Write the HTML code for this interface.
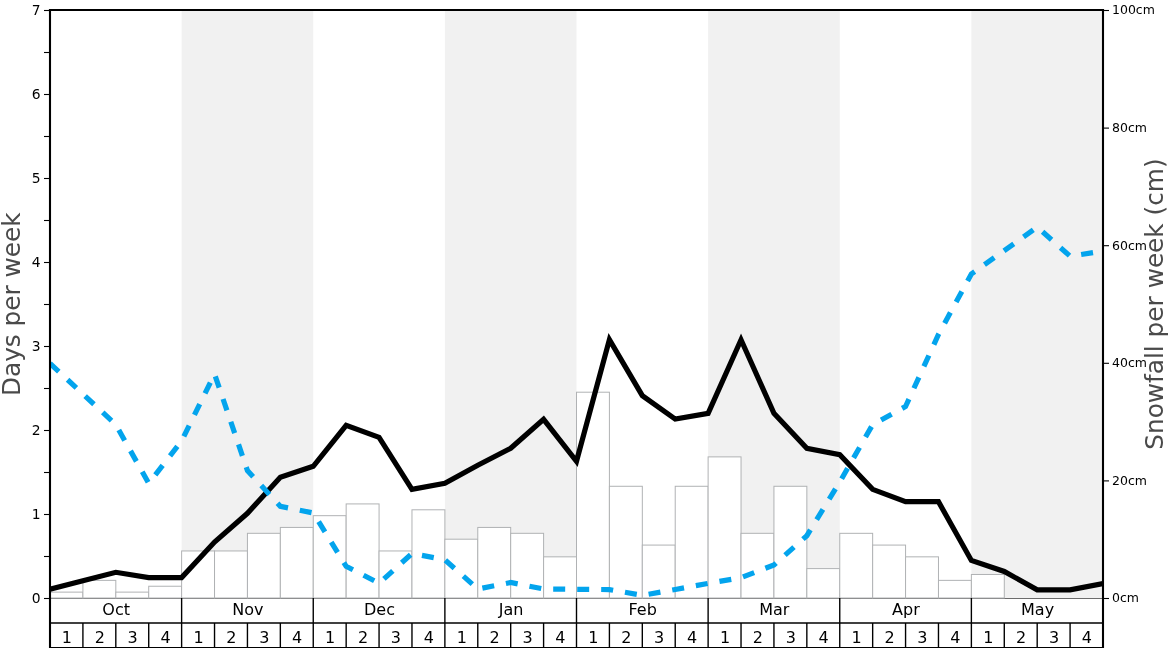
<!DOCTYPE html>
<html lang="en"><head><meta charset="utf-8"><title>Snowfall chart</title>
<style>html,body{margin:0;padding:0;background:#fff;}body{width:1168px;height:648px;overflow:hidden;}svg{display:block;}text{font-family:"DejaVu Sans","Liberation Sans",sans-serif;}</style>
</head><body>
<svg width="1168" height="648" viewBox="0 0 1168 648">
<rect x="0" y="0" width="1168" height="648" fill="#ffffff"/>
<defs><clipPath id="ax"><rect x="50" y="10" width="1053" height="588"/></clipPath></defs>
<rect x="181.62" y="10" width="131.62" height="588" fill="#f1f1f1"/>
<rect x="444.88" y="10" width="131.62" height="588" fill="#f1f1f1"/>
<rect x="708.12" y="10" width="131.62" height="588" fill="#f1f1f1"/>
<rect x="971.38" y="10" width="131.62" height="588" fill="#f1f1f1"/>
<line x1="50" y1="598.5" x2="1103" y2="598.5" stroke="#6c6c6c" stroke-width="1"/>
<g fill="#ffffff" stroke="#b0b2b4" stroke-width="1">
<rect x="50" y="592.12" width="32.91" height="5.88"/>
<rect x="82.91" y="580.36" width="32.91" height="17.64"/>
<rect x="115.81" y="592.12" width="32.91" height="5.88"/>
<rect x="148.72" y="586.24" width="32.91" height="11.76"/>
<rect x="181.62" y="550.96" width="32.91" height="47.04"/>
<rect x="214.53" y="550.96" width="32.91" height="47.04"/>
<rect x="247.44" y="533.32" width="32.91" height="64.68"/>
<rect x="280.34" y="527.44" width="32.91" height="70.56"/>
<rect x="313.25" y="515.68" width="32.91" height="82.32"/>
<rect x="346.16" y="503.92" width="32.91" height="94.08"/>
<rect x="379.06" y="550.96" width="32.91" height="47.04"/>
<rect x="411.97" y="509.8" width="32.91" height="88.2"/>
<rect x="444.88" y="539.2" width="32.91" height="58.8"/>
<rect x="477.78" y="527.44" width="32.91" height="70.56"/>
<rect x="510.69" y="533.32" width="32.91" height="64.68"/>
<rect x="543.59" y="556.84" width="32.91" height="41.16"/>
<rect x="576.5" y="392.2" width="32.91" height="205.8"/>
<rect x="609.41" y="486.28" width="32.91" height="111.72"/>
<rect x="642.31" y="545.08" width="32.91" height="52.92"/>
<rect x="675.22" y="486.28" width="32.91" height="111.72"/>
<rect x="708.12" y="456.88" width="32.91" height="141.12"/>
<rect x="741.03" y="533.32" width="32.91" height="64.68"/>
<rect x="773.94" y="486.28" width="32.91" height="111.72"/>
<rect x="806.84" y="568.6" width="32.91" height="29.4"/>
<rect x="839.75" y="533.32" width="32.91" height="64.68"/>
<rect x="872.66" y="545.08" width="32.91" height="52.92"/>
<rect x="905.56" y="556.84" width="32.91" height="41.16"/>
<rect x="938.47" y="580.36" width="32.91" height="17.64"/>
<rect x="971.38" y="574.48" width="32.91" height="23.52"/>
</g>
<polyline clip-path="url(#ax)" points="50,589.3 82.91,580.8 115.81,572.3 148.72,577.6 181.62,577.6 214.53,542 247.44,513.3 280.34,477.3 313.25,466.3 346.16,425.3 379.06,437.3 411.97,489.3 444.88,483.3 477.78,465.3 510.69,448.3 543.59,419.3 576.5,461.3 609.41,339.6 642.31,395.6 675.22,419 708.12,413.3 741.03,339.8 773.94,413.3 806.84,448.3 839.75,454.6 872.66,489.4 905.56,501.7 938.47,501.7 971.38,560.4 1004.28,571.5 1037.19,589.8 1070.09,589.8 1103,583.5" fill="none" stroke="#000000" stroke-width="5.2" stroke-linejoin="miter" stroke-miterlimit="10"/>
<polyline clip-path="url(#ax)" points="50,363.4 82.91,394 115.81,424.6 148.72,483.4 181.62,441 214.53,374 247.44,470.6 280.34,506.3 313.25,513 346.16,566.3 379.06,583.3 411.97,553.5 444.88,559.8 477.78,589 510.69,582.5 543.59,589 576.5,589.3 609.41,589.6 642.31,595.3 675.22,589.5 708.12,583.4 741.03,577.6 773.94,565 806.84,535.7 839.75,482 872.66,424.6 905.56,406.5 938.47,334.5 971.38,274 1004.28,250.6 1037.19,227 1070.09,256.2 1103,251" fill="none" stroke="#03a4ed" stroke-width="5.2" stroke-linejoin="miter" stroke-dasharray="12 12"/>
<g stroke="#000000" stroke-width="1.39" fill="none">
<line x1="50" y1="623" x2="1103" y2="623"/>
<line x1="50" y1="647.65" x2="1103" y2="647.65"/>
<line x1="82.91" y1="623" x2="82.91" y2="647.65"/>
<line x1="115.81" y1="623" x2="115.81" y2="647.65"/>
<line x1="148.72" y1="623" x2="148.72" y2="647.65"/>
<line x1="181.62" y1="598" x2="181.62" y2="647.65"/>
<line x1="214.53" y1="623" x2="214.53" y2="647.65"/>
<line x1="247.44" y1="623" x2="247.44" y2="647.65"/>
<line x1="280.34" y1="623" x2="280.34" y2="647.65"/>
<line x1="313.25" y1="598" x2="313.25" y2="647.65"/>
<line x1="346.16" y1="623" x2="346.16" y2="647.65"/>
<line x1="379.06" y1="623" x2="379.06" y2="647.65"/>
<line x1="411.97" y1="623" x2="411.97" y2="647.65"/>
<line x1="444.88" y1="598" x2="444.88" y2="647.65"/>
<line x1="477.78" y1="623" x2="477.78" y2="647.65"/>
<line x1="510.69" y1="623" x2="510.69" y2="647.65"/>
<line x1="543.59" y1="623" x2="543.59" y2="647.65"/>
<line x1="576.5" y1="598" x2="576.5" y2="647.65"/>
<line x1="609.41" y1="623" x2="609.41" y2="647.65"/>
<line x1="642.31" y1="623" x2="642.31" y2="647.65"/>
<line x1="675.22" y1="623" x2="675.22" y2="647.65"/>
<line x1="708.12" y1="598" x2="708.12" y2="647.65"/>
<line x1="741.03" y1="623" x2="741.03" y2="647.65"/>
<line x1="773.94" y1="623" x2="773.94" y2="647.65"/>
<line x1="806.84" y1="623" x2="806.84" y2="647.65"/>
<line x1="839.75" y1="598" x2="839.75" y2="647.65"/>
<line x1="872.66" y1="623" x2="872.66" y2="647.65"/>
<line x1="905.56" y1="623" x2="905.56" y2="647.65"/>
<line x1="938.47" y1="623" x2="938.47" y2="647.65"/>
<line x1="971.38" y1="598" x2="971.38" y2="647.65"/>
<line x1="1004.28" y1="623" x2="1004.28" y2="647.65"/>
<line x1="1037.19" y1="623" x2="1037.19" y2="647.65"/>
<line x1="1070.09" y1="623" x2="1070.09" y2="647.65"/>
</g>
<g stroke="#000000" stroke-width="2.1" fill="none" stroke-linecap="square">
<line x1="50" y1="10" x2="50" y2="648"/>
<line x1="1103" y1="10" x2="1103" y2="648"/>
<line x1="50" y1="10" x2="1103" y2="10"/>
</g>
<g stroke="#000000" stroke-width="1.1">
<line x1="44" y1="598.5" x2="49" y2="598.5"/>
<line x1="44" y1="514.5" x2="49" y2="514.5"/>
<line x1="44" y1="430.5" x2="49" y2="430.5"/>
<line x1="44" y1="346.5" x2="49" y2="346.5"/>
<line x1="44" y1="262.5" x2="49" y2="262.5"/>
<line x1="44" y1="178.5" x2="49" y2="178.5"/>
<line x1="44" y1="94.5" x2="49" y2="94.5"/>
<line x1="44" y1="10.5" x2="49" y2="10.5"/>
<line x1="44" y1="556.5" x2="49" y2="556.5"/>
<line x1="44" y1="472.5" x2="49" y2="472.5"/>
<line x1="44" y1="388.5" x2="49" y2="388.5"/>
<line x1="44" y1="304.5" x2="49" y2="304.5"/>
<line x1="44" y1="220.5" x2="49" y2="220.5"/>
<line x1="44" y1="136.5" x2="49" y2="136.5"/>
<line x1="44" y1="52.5" x2="49" y2="52.5"/>
<line x1="1104" y1="598.5" x2="1109" y2="598.5"/>
<line x1="1104" y1="480.9" x2="1109" y2="480.9"/>
<line x1="1104" y1="363.3" x2="1109" y2="363.3"/>
<line x1="1104" y1="245.7" x2="1109" y2="245.7"/>
<line x1="1104" y1="128.1" x2="1109" y2="128.1"/>
<line x1="1104" y1="10.5" x2="1109" y2="10.5"/>
</g>
<g font-size="13.89" fill="#000000" text-anchor="end">
<text x="40.7" y="603.4">0</text>
<text x="40.7" y="519.4">1</text>
<text x="40.7" y="435.4">2</text>
<text x="40.7" y="351.4">3</text>
<text x="40.7" y="267.4">4</text>
<text x="40.7" y="183.4">5</text>
<text x="40.7" y="99.4">6</text>
<text x="40.7" y="15.4">7</text>
</g>
<g font-size="12.5" fill="#000000" text-anchor="start">
<text x="1112" y="601.9">0cm</text>
<text x="1112" y="485.2">20cm</text>
<text x="1112" y="366.7">40cm</text>
<text x="1112" y="250">60cm</text>
<text x="1112" y="132.4">80cm</text>
<text x="1112" y="13.9">100cm</text>
</g>
<g font-size="16" fill="#000000" text-anchor="middle">
<text x="116.21" y="615.2">Oct</text>
<text x="247.84" y="615.2">Nov</text>
<text x="379.46" y="615.2">Dec</text>
<text x="511.09" y="615.2">Jan</text>
<text x="642.71" y="615.2">Feb</text>
<text x="774.34" y="615.2">Mar</text>
<text x="905.96" y="615.2">Apr</text>
<text x="1037.59" y="615.2">May</text>
<text x="66.85" y="642.8">1</text>
<text x="99.76" y="642.8">2</text>
<text x="132.67" y="642.8">3</text>
<text x="165.57" y="642.8">4</text>
<text x="198.48" y="642.8">1</text>
<text x="231.38" y="642.8">2</text>
<text x="264.29" y="642.8">3</text>
<text x="297.2" y="642.8">4</text>
<text x="330.1" y="642.8">1</text>
<text x="363.01" y="642.8">2</text>
<text x="395.92" y="642.8">3</text>
<text x="428.82" y="642.8">4</text>
<text x="461.73" y="642.8">1</text>
<text x="494.63" y="642.8">2</text>
<text x="527.54" y="642.8">3</text>
<text x="560.45" y="642.8">4</text>
<text x="593.35" y="642.8">1</text>
<text x="626.26" y="642.8">2</text>
<text x="659.17" y="642.8">3</text>
<text x="692.07" y="642.8">4</text>
<text x="724.98" y="642.8">1</text>
<text x="757.88" y="642.8">2</text>
<text x="790.79" y="642.8">3</text>
<text x="823.7" y="642.8">4</text>
<text x="856.6" y="642.8">1</text>
<text x="889.51" y="642.8">2</text>
<text x="922.42" y="642.8">3</text>
<text x="955.32" y="642.8">4</text>
<text x="988.23" y="642.8">1</text>
<text x="1021.13" y="642.8">2</text>
<text x="1054.04" y="642.8">3</text>
<text x="1086.95" y="642.8">4</text>
</g>
<text font-size="24.77" fill="#4a4a4a" text-anchor="middle" transform="translate(20.2,304.2) rotate(-90)">Days per week</text>
<text font-size="24.77" fill="#4a4a4a" text-anchor="middle" transform="translate(1163.2,304.05) rotate(-90)">Snowfall per week (cm)</text>
</svg></body></html>
